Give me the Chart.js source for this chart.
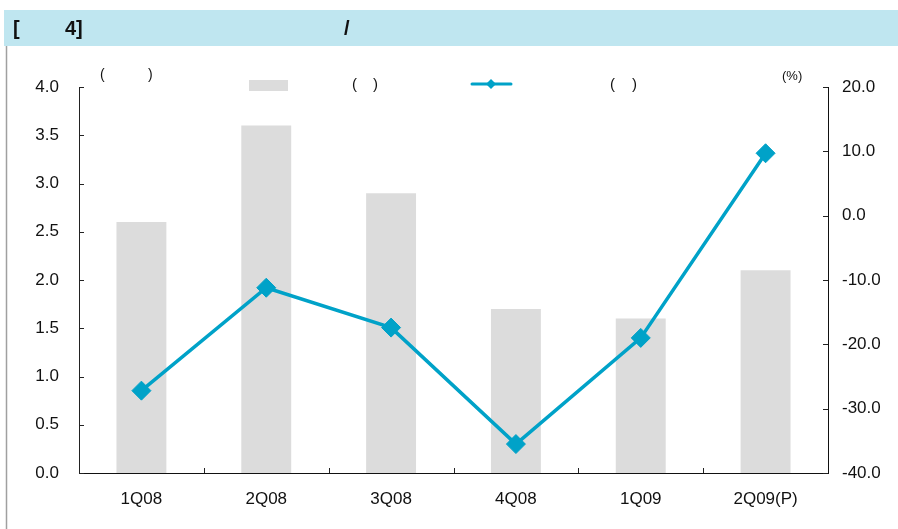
<!DOCTYPE html>
<html>
<head>
<meta charset="utf-8">
<script src="https://cdn.jsdelivr.net/npm/chart.js@4/dist/chart.umd.min.js"></script>
<style>
  html, body { margin: 0; padding: 0; background: #ffffff; }
  #wrap { position: relative; width: 898px; height: 529px; }
</style>
</head>
<body>
<div id="wrap"><canvas id="c" width="898" height="529"></canvas></div>
<script>
// Quarterly figures
const categories = ['1Q08', '2Q08', '3Q08', '4Q08', '1Q09', '2Q09(P)'];
const barValues = [2.6, 3.6, 2.9, 1.7, 1.6, 2.1];          // left axis
const lineValues = [-27.2, -11.2, -17.4, -35.5, -19.0, 9.7]; // right axis, %
const leftTicks = [0, 0.5, 1, 1.5, 2, 2.5, 3, 3.5, 4];
const rightTicks = [-40, -30, -20, -10, 0, 10, 20];

const BAR_COLOR = '#dcdcdc';
const LINE_COLOR = '#00a2c8';
const FONT = '"Liberation Sans", Arial, sans-serif';

// Header band, frame line, inward tick marks and the legend row
const decorations = {
  id: 'decorations',
  beforeDraw(chart) {
    const ctx = chart.ctx;
    ctx.save();
    ctx.fillStyle = '#ffffff';
    ctx.fillRect(0, 0, chart.width, chart.height);
    ctx.fillStyle = '#bfe6f0';
    ctx.fillRect(4, 10, chart.width - 4, 36);
    ctx.strokeStyle = '#a0a0a0';
    ctx.lineWidth = 1.5;
    ctx.beginPath();
    ctx.moveTo(6.5, 46);
    ctx.lineTo(6.5, chart.height);
    ctx.stroke();
    ctx.fillStyle = '#111111';
    ctx.font = 'bold 20px ' + FONT;
    ctx.textBaseline = 'middle';
    ctx.textAlign = 'left';
    ctx.fillText('[', 13, 29);
    ctx.fillText('4]', 65, 29);
    ctx.fillText('/', 344, 29);
    ctx.restore();
  },
  afterDraw(chart) {
    const ctx = chart.ctx;
    const x = chart.scales.x, y = chart.scales.y, y1 = chart.scales.y1;
    const area = chart.chartArea;
    ctx.save();
    ctx.strokeStyle = '#222222';
    ctx.lineWidth = 1;
    ctx.beginPath();
    leftTicks.forEach(v => {
      const py = Math.round(y.getPixelForValue(v)) + 0.5;
      ctx.moveTo(area.left, py); ctx.lineTo(area.left + 5, py);
    });
    rightTicks.forEach(v => {
      const py = Math.round(y1.getPixelForValue(v)) + 0.5;
      ctx.moveTo(area.right, py); ctx.lineTo(area.right - 5, py);
    });
    for (let i = 0; i < categories.length - 1; i++) {
      const px = Math.round((x.getPixelForTick(i) + x.getPixelForTick(i + 1)) / 2) + 0.5;
      ctx.moveTo(px, area.bottom); ctx.lineTo(px, area.bottom - 5);
    }
    ctx.stroke();

    // legend row
    ctx.fillStyle = BAR_COLOR;
    ctx.fillRect(249, 80, 39, 11);
    ctx.strokeStyle = LINE_COLOR;
    ctx.lineWidth = 3;
    ctx.lineCap = 'round';
    ctx.beginPath();
    ctx.moveTo(472, 84); ctx.lineTo(511, 84);
    ctx.stroke();
    ctx.fillStyle = LINE_COLOR;
    ctx.beginPath();
    ctx.moveTo(491, 79); ctx.lineTo(496, 84); ctx.lineTo(491, 89); ctx.lineTo(486, 84);
    ctx.closePath();
    ctx.fill();

    ctx.fillStyle = '#111111';
    ctx.textBaseline = 'middle';
    ctx.textAlign = 'left';
    ctx.font = '15px ' + FONT;
    ctx.fillText('(', 352, 85);
    ctx.fillText(')', 373, 85);
    ctx.fillText('(', 610, 85);
    ctx.fillText(')', 632, 85);
    ctx.font = '14px ' + FONT;
    ctx.fillText('(', 100, 75);
    ctx.fillText(')', 148, 75);
    ctx.font = '13px ' + FONT;
    ctx.fillText('(%)', 782, 76);
    ctx.restore();
  }
};

new Chart(document.getElementById('c'), {
  type: 'bar',
  data: {
    labels: categories,
    datasets: [
      {
        type: 'line',
        data: lineValues,
        yAxisID: 'y1',
        order: 0,
        borderColor: LINE_COLOR,
        borderWidth: 3.5,
        tension: 0,
        pointStyle: 'rectRot',
        pointRadius: 9.5,
        pointBorderWidth: 1,
        pointBackgroundColor: LINE_COLOR,
        pointBorderColor: LINE_COLOR
      },
      {
        type: 'bar',
        data: barValues,
        yAxisID: 'y',
        order: 1,
        backgroundColor: BAR_COLOR,
        borderWidth: 0,
        barPercentage: 0.4,
        categoryPercentage: 1.0
      }
    ]
  },
  options: {
    responsive: false,
    animation: false,
    devicePixelRatio: 1,
    layout: { padding: { top: 87, left: 0, right: 0, bottom: 0 } },
    plugins: { legend: { display: false }, tooltip: { enabled: false }, title: { display: false } },
    scales: {
      x: {
        offset: true,
        grid: { display: false, drawTicks: false },
        border: { display: true, color: '#111111', width: 1 },
        ticks: { color: '#111111', font: { family: FONT, size: 17 }, padding: 16, maxRotation: 0, autoSkip: false },
        afterFit: s => { s.height = 56; }
      },
      y: {
        position: 'left',
        min: 0, max: 4,
        afterBuildTicks: s => { s.ticks = leftTicks.map(v => ({ value: v })); },
        grid: { display: false, drawTicks: false },
        border: { display: true, color: '#222222', width: 1 },
        ticks: { color: '#111111', font: { family: FONT, size: 17 }, padding: 20, callback: v => Number(v).toFixed(1) },
        afterFit: s => { s.width = 79; }
      },
      y1: {
        position: 'right',
        min: -40, max: 20,
        afterBuildTicks: s => { s.ticks = rightTicks.map(v => ({ value: v })); },
        grid: { display: false, drawTicks: false },
        border: { display: true, color: '#111111', width: 1 },
        ticks: { color: '#111111', font: { family: FONT, size: 17 }, padding: 14, callback: v => Number(v).toFixed(1) },
        afterFit: s => { s.width = 70; }
      }
    }
  },
  plugins: [decorations]
});
</script>
</body>
</html>
